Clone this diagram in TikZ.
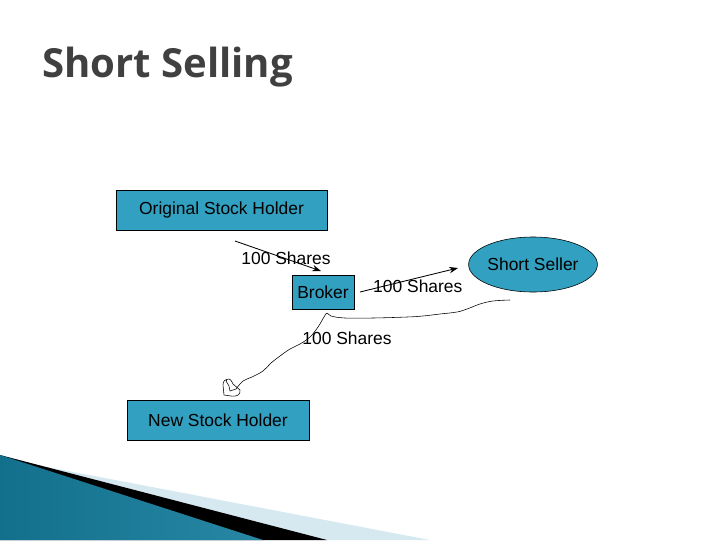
\documentclass[tikz,border=0pt]{standalone}
\usepackage{fontspec}
\setmainfont{Liberation Sans}
\newfontfamily\titlefont{Open Sans}
\usetikzlibrary{arrows.meta, positioning, shapes.geometric}

\definecolor{boxteal}{RGB}{50,160,192}
\definecolor{titlegray}{RGB}{64,64,64}
\definecolor{wavedark}{RGB}{18,112,140}
\definecolor{wavelight}{RGB}{90,190,220}
\definecolor{paleblue}{RGB}{214,232,240}

\begin{document}
\begin{tikzpicture}[
    x=0.025cm, y=-0.025cm, % one unit = one pixel of the slide
    >={Stealth[length=2.2mm, width=1.6mm]},
    body/.style={font=\fontsize{12.4}{14}\selectfont},
    holder/.style={body, rectangle, draw=black, fill=boxteal, minimum height=1cm, inner sep=0pt},
    seller/.style={body, ellipse, draw=black, fill=boxteal, minimum width=3cm, minimum height=1.375cm, inner sep=0pt},
    flow/.style={->, semithick},
    scribble/.style={thin, line join=round}
]

    % === Page frame ===
    \useasboundingbox (0,0) rectangle (720,540);

    % === Title ===
    \node[anchor=base west, inner sep=0pt, text=titlegray,
          font=\titlefont\bfseries\fontsize{28.5}{32}\selectfont] (title) at (42,77) {Short Selling};

    % === Parties ===
    \node[holder, minimum width=5.275cm] (original) at (221.5,210) {Original Stock Holder};
    \node[holder, minimum width=1.55cm, minimum height=0.85cm] (broker) at (323,292) {Broker};
    \node[seller] (seller) at (533,264.5) {Short Seller};
    \node[holder, minimum width=4.55cm] (newholder) at (218,420) {New Stock Holder};

    % === Share transfers ===
    \coordinate (lendstart) at (235,241);
    \coordinate (lendend) at (321,271);
    \draw[flow] (lendstart) -- (lendend) node[body, midway, xshift=0.2cm, yshift=-0.05cm] (lendlabel) {100 Shares};

    \coordinate (sellstart) at (360,292);
    \coordinate (sellend) at (458,268);
    \draw[flow] (sellstart) -- (sellend) node[body, midway, xshift=0.22cm, yshift=-0.16cm] (selllabel) {100 Shares};

    % hand drawn line from the seller down to the new holder
    \coordinate (buystart) at (510,300);
    \coordinate (buyend) at (236,389);
    \draw[scribble] plot[smooth, tension=0.6] coordinates {
        (buystart) (493,301) (480,304) (467,309) (457,312) (440,314) (423,316)
        (407,317) (373,318) (345,318) (331,316) (327,313) (324,317) (318,327)
        (310,337) (300,344) (290,349) (280,356) (271,363) (263,371) (252,377)
        (243,381) (buyend)};
    \draw[scribble] (buyend) -- (230,391) -- (229,386) (229,386) -- (226,381)
        .. controls (228,377) and (231,379) .. (233,384) -- (240,390)
        .. controls (241,395) and (236,397) .. (231,396) -- (224,395) -- (223,385)
        .. controls (223,381) and (225,379) .. (228,379);
    \node[body] (buylabel) at (347,338) {100 Shares};

    % === Slide decoration ===
    \fill[paleblue] (0,458) -- (430,540) -- (0,540) -- cycle;
    \fill[black] (0,455) -- (327,540) -- (0,540) -- cycle;
    \shade[left color=wavedark, middle color=wavelight, right color=wavedark!70!wavelight]
        (0,455) -- (263,540) -- (0,540) -- cycle;

\end{tikzpicture}
\end{document}
